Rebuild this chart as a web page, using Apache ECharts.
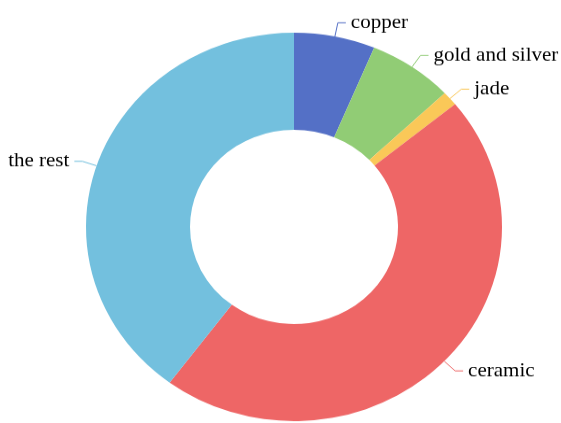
<!DOCTYPE html>
<html>
<head>
<meta charset="utf-8">
<script src="https://cdn.jsdelivr.net/npm/echarts@6/dist/echarts.min.js"></script>
<style>
  html, body { margin: 0; padding: 0; overflow: hidden; background: #fff; }
  /* the reference donut is slightly squashed vertically */
  #pie {
    width: 561px;
    height: 453px;
    transform: scaleY(0.93377);
    transform-origin: 0 0;
  }
</style>
</head>
<body>
<div id="pie"></div>
<script>
  // 品类占比
  const categories = ["copper", "gold and silver", "jade", "ceramic", "the rest"];
  const shares = [6.3, 6.6, 1.2, 46.1, 39.8];

  const chart = echarts.init(document.getElementById("pie"));
  const data = categories.map((name, i) => ({ name: name, value: shares[i] }));

  chart.setOption({
    backgroundColor: "#fff",
    color: ["#5470c6", "#91cc75", "#fac858", "#ee6666", "#73c0de"],
    series: [
      {
        type: "pie",
        radius: [104, 208],
        center: [294, 243],
        startAngle: 90,
        label: {
          show: true,
          color: "#000",
          fontSize: 21,
          fontFamily: "Liberation Serif",
          overflow: "none",
        },
        labelLine: {
          show: true,
          length: 15,
          length2: 8,
        },
        data: data,
      },
    ],
  });
</script>
</body>
</html>
